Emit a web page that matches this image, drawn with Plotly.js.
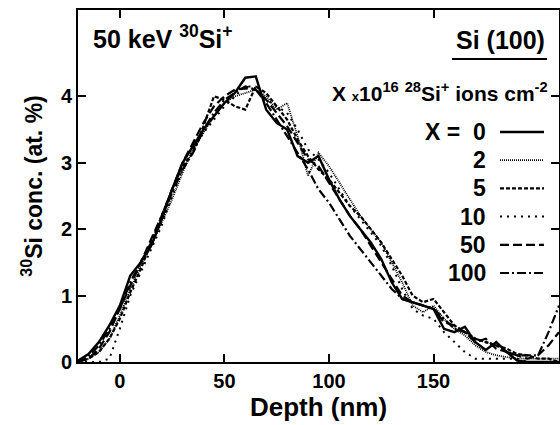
<!DOCTYPE html>
<html>
<head>
<meta charset="utf-8">
<script src="https://cdn.plot.ly/plotly-3.0.1.min.js"></script>
<style>html,body{margin:0;padding:0;background:#fff;}#chart{width:560px;height:425px;}</style>
</head>
<body>
<div id="chart"></div>
<script>
// Depth grid (nm)
const depth = [-20,-15,-10,-5,0,5,10,15,20,25,30,35,40,45,50,55,60,65,70,75,80,85,90,95,100,105,110,115,120,125,130,135,140,145,150,155,160,165,170,175,180,185,190,195,200,205,210];

// 30Si concentration (at. %) for each 28Si+ pre-dose X (x10^16 ions cm^-2)
const conc_X0   = [0.02,0.12,0.30,0.55,0.85,1.30,1.50,1.75,2.15,2.60,3.00,3.25,3.50,3.70,3.90,4.05,4.28,4.30,3.80,3.60,3.50,3.10,3.00,3.10,2.75,2.45,2.20,2.00,1.80,1.55,1.20,0.95,0.90,0.85,0.80,0.50,0.45,0.53,0.30,0.18,0.30,0.15,0.02,0.00,0.00,0.00,0.00];
const conc_X2   = [0.00,0.05,0.15,0.35,0.70,1.10,1.45,1.75,2.10,2.45,2.85,3.20,3.45,3.70,3.90,4.00,4.05,4.10,4.00,3.80,3.90,3.40,2.80,3.15,2.95,2.70,2.45,2.20,2.00,1.80,1.50,1.20,0.85,0.75,0.85,0.65,0.50,0.40,0.25,0.15,0.10,0.08,0.05,0.05,0.05,0.05,0.05];
const conc_X5   = [0.00,0.05,0.15,0.35,0.65,1.05,1.40,1.80,2.20,2.60,2.95,3.15,3.55,4.00,3.95,3.85,3.80,4.15,4.05,3.85,3.65,3.35,3.10,2.90,2.75,2.55,2.35,2.20,2.00,1.80,1.55,1.30,1.00,0.90,0.95,0.75,0.55,0.45,0.35,0.30,0.25,0.20,0.12,0.10,0.05,0.05,0.00];
const conc_X10  = [0.00,0.00,0.00,0.05,0.50,1.00,1.35,1.70,2.05,2.50,2.90,3.20,3.45,3.65,3.85,4.00,4.15,4.15,3.95,3.85,3.75,3.50,3.20,3.05,2.85,2.60,2.35,2.15,1.95,1.75,1.45,1.10,0.80,0.70,0.65,0.45,0.30,0.15,0.05,0.05,0.05,0.05,0.05,0.00,0.00,0.00,0.00];
const conc_X50  = [0.00,0.05,0.20,0.45,0.80,1.15,1.50,1.85,2.20,2.60,3.00,3.30,3.60,3.85,4.00,4.10,4.12,4.10,3.95,3.75,3.55,3.30,3.05,2.95,2.70,2.45,2.20,2.00,1.75,1.50,1.25,1.00,0.90,0.85,0.80,0.60,0.55,0.45,0.30,0.35,0.20,0.15,0.10,0.05,0.10,0.25,0.45];
const conc_X100 = [0.00,0.08,0.25,0.50,0.80,1.20,1.50,1.80,2.15,2.55,2.90,3.15,3.50,3.75,3.95,4.05,4.15,4.10,3.90,3.65,3.40,3.15,2.90,2.60,2.40,2.15,1.90,1.70,1.50,1.30,1.10,0.95,0.90,0.85,0.80,0.65,0.50,0.45,0.35,0.30,0.25,0.15,0.10,0.10,0.10,0.45,0.85];

const seriesNames = ['0','2','5','10','50','100'];
const seriesData = [conc_X0, conc_X2, conc_X5, conc_X10, conc_X50, conc_X100];
const dashes = ['solid','1px,1px','4px,2px','2px,5px','9px,4px','9px,3px,2px,3px'];
const widths = [2.4, 1.8, 2.2, 2, 2.2, 2.2];

const xTicks = [0,50,100,150];
const yTicks = [0,1,2,3,4];

const traces = seriesData.map((v,i)=>({
  x: depth, y: v, type:'scatter', mode:'lines', name: seriesNames[i],
  line:{color:'#000', width:widths[i], dash:dashes[i]}, showlegend:false, hoverinfo:'skip'
}));

const F = 'Liberation Sans, Arial, Helvetica, sans-serif';
const L = 78, R = 559, T = 10, B = 362;
const px = v => (v - L) / (R - L);
const py = v => (B - v) / (B - T);

const annotations = [
  {text:'50 keV <sup>30</sup>Si<sup>+</sup>', xref:'paper', yref:'paper', x:px(92), y:py(54), xanchor:'left', yanchor:'bottom', showarrow:false, borderpad:0, font:{family:F, size:25, weight:'bold', color:'#000'}},
  {text:'Si (100)', xref:'paper', yref:'paper', x:px(547), y:py(40), xanchor:'right', yanchor:'middle', showarrow:false, font:{family:F, size:25, weight:'bold', color:'#000'}},
  {text:'X <span style="font-size:13px">x</span>10<sup>16</sup> <sup>28</sup>Si<sup>+</sup> ions cm<sup>-2</sup>', xref:'paper', yref:'paper', x:px(550), y:py(92), xanchor:'right', yanchor:'middle', showarrow:false, font:{family:F, size:21, weight:'bold', color:'#000'}}
];
const shapes = [
  {type:'line', xref:'paper', yref:'paper', x0:px(452), x1:px(547), y0:py(59), y1:py(59), line:{color:'#000', width:2}}
];
const labels = ['X =  0','2','5','10','50','100'];
labels.forEach((lab,i)=>{
  const yc = 132 + 28.2*i;
  annotations.push({text:lab, xref:'paper', yref:'paper', x:px(488), y:py(yc), xanchor:'right', yanchor:'middle', showarrow:false, font:{family:F, size:23, weight:'bold', color:'#000'}});
  shapes.push({type:'line', xref:'paper', yref:'paper', x0:px(500), x1:px(544), y0:py(yc), y1:py(yc), line:{color:'#000', width:widths[i], dash:dashes[i]}});
});

const layout = {
  width:560, height:425,
  margin:{l:L, r:560-R, t:T, b:425-B},
  paper_bgcolor:'#fff', plot_bgcolor:'#fff',
  showlegend:false,
  xaxis:{range:[-20,210], tickvals:xTicks, ticks:'inside', ticklen:8, tickwidth:2, tickcolor:'#000',
    showline:true, linewidth:2, linecolor:'#000', mirror:'ticks', showgrid:false, zeroline:false,
    tickfont:{family:F, size:20, weight:'bold', color:'#000'},
    title:{text:'Depth (nm)', font:{family:F, size:26, weight:'bold', color:'#000'}, standoff:7}},
  yaxis:{range:[0,5.3], tickvals:yTicks, ticks:'inside', ticklen:8, tickwidth:2, tickcolor:'#000',
    showline:true, linewidth:2, linecolor:'#000', mirror:'ticks', showgrid:false, zeroline:false,
    tickfont:{family:F, size:20, weight:'bold', color:'#000'},
    title:{text:'<sup>30</sup>Si conc. (at. %)', font:{family:F, size:23, weight:'bold', color:'#000'}, standoff:12}},
  annotations:annotations, shapes:shapes
};

Plotly.newPlot('chart', traces, layout, {displayModeBar:false, staticPlot:true});
</script>
</body>
</html>
